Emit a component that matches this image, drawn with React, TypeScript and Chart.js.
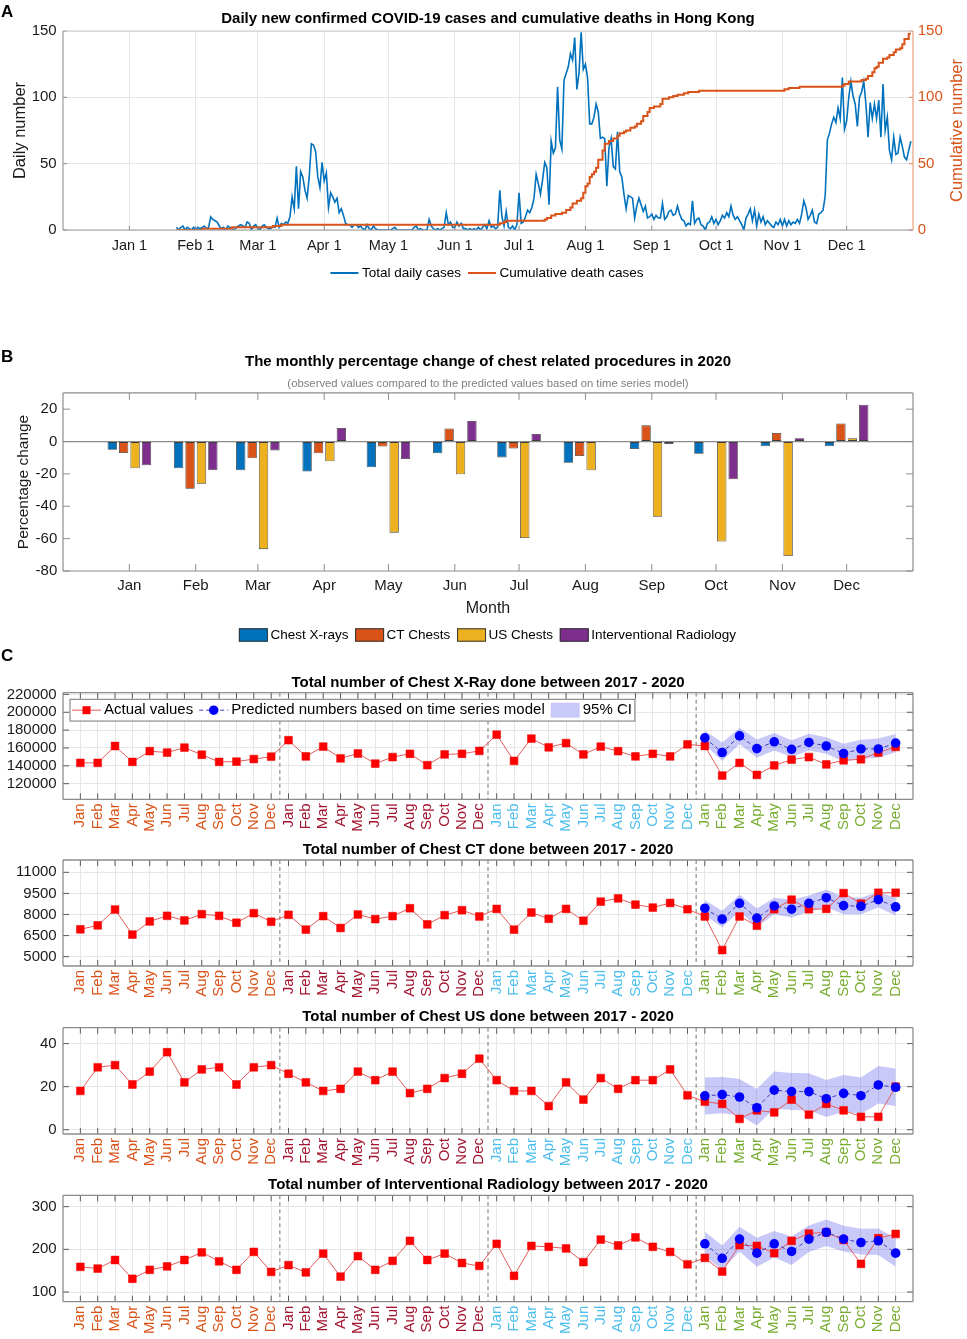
import React, { useEffect, useRef } from 'react';
import { Chart, registerables } from 'chart.js';

Chart.register(...registerables);

const FONT = '"Liberation Sans", Arial, Helvetica, sans-serif';
Chart.defaults.font.family = FONT;
Chart.defaults.color = '#1a1a1a';

/* ================= Panel A data ================= */
const monthStartDays = [0, 31, 60, 91, 121, 152, 182, 213, 244, 274, 305, 335];
const dateTickLabels = ['Jan 1', 'Feb 1', 'Mar 1', 'Apr 1', 'May 1', 'Jun 1', 'Jul 1', 'Aug 1', 'Sep 1', 'Oct 1', 'Nov 1', 'Dec 1'];
const firstCaseDay = 22; // 23 Jan 2020 (day 0 = 1 Jan 2020)
const casesJan = [2, 0, 2, 3, 0, 2, 1, 0, 2];
const casesFeb = [0, 2, 1, 2, 3, 1, 2, 10, 8, 7, 6, 3, 1, 2, 0, 3, 2, 1, 0, 2, 3, 4, 3, 2, 6, 5, 0, 3, 4];
const casesMar = [1, 0, 3, 4, 2, 1, 1, 3, 2, 9, 2, 5, 4, 6, 5, 10, 25, 16, 48, 16, 44, 40, 30, 24, 40, 65, 64, 59, 40, 32, 51];
const casesApr = [37, 43, 17, 28, 25, 21, 24, 13, 16, 11, 5, 4, 4, 2, 4, 4, 2, 3, 1, 0, 4, 1, 0, 3, 1, 0, 0, 0, 0, 0];
const casesMay = [0, 0, 1, 2, 0, 0, 0, 0, 0, 0, 0, 0, 2, 3, 0, 1, 0, 0, 0, 8, 3, 1, 0, 1, 0, 1, 2, 13, 4, 6, 2];
const casesJun = [2, 6, 3, 5, 1, 1, 0, 1, 0, 1, 0, 2, 0, 2, 4, 1, 7, 2, 3, 1, 2, 30, 10, 3, 14, 2, 1, 3, 0, 4];
const casesJul = [28, 5, 6, 10, 15, 13, 17, 24, 42, 35, 27, 38, 51, 47, 19, 67, 58, 62, 108, 68, 61, 113, 118, 123, 133, 128, 145, 106, 118, 149, 121];
const casesAug = [125, 115, 80, 80, 85, 95, 89, 69, 70, 69, 33, 62, 69, 48, 46, 74, 44, 40, 27, 16, 26, 25, 24, 9, 18, 24, 19, 14, 18, 9, 10];
const casesSep = [12, 8, 11, 9, 9, 20, 8, 10, 14, 15, 11, 12, 18, 12, 8, 7, 3, 5, 4, 22, 5, 8, 9, 4, 3, 0, 5, 6, 10, 5];
const casesOct = [8, 4, 7, 11, 9, 13, 10, 18, 11, 8, 10, 7, 4, 0, 9, 12, 16, 7, 15, 3, 12, 6, 10, 4, 7, 5, 3, 2, 6, 4, 8];
const casesNov = [3, 8, 3, 7, 4, 6, 5, 8, 5, 12, 22, 17, 8, 11, 15, 6, 5, 12, 13, 15, 26, 68, 73, 80, 85, 81, 92, 84, 115, 76];
const casesDec = [82, 100, 112, 101, 95, 78, 100, 104, 112, 95, 70, 96, 84, 95, 84, 98, 70, 110, 75, 85, 60, 53, 70, 57, 58, 70, 63, 55, 53, 60, 67];

const deathDays = [22, 34, 48, 67, 71, 173, 175, 176, 194, 195, 197, 199, 202, 204, 206, 207, 209, 211, 212, 213, 214, 215, 216, 217, 218, 219, 221, 222, 224, 226, 228, 229, 231, 232, 234, 236, 237, 239, 240, 242, 243, 245, 248, 249, 252, 254, 256, 259, 261, 266, 306, 308, 313, 333, 334, 336, 342, 344, 345, 347, 348, 349, 350, 352, 354, 355, 357, 358, 360, 361, 362, 364, 365];
const deathCounts = [0, 1, 2, 3, 4, 5, 6, 7, 8, 9, 11, 12, 13, 15, 17, 20, 22, 24, 28, 33, 35, 40, 42, 44, 47, 53, 60, 65, 67, 69, 71, 73, 74, 75, 77, 78, 80, 82, 86, 89, 92, 93, 95, 99, 100, 101, 102, 103, 104, 105, 106, 107, 108, 109, 110, 112, 113, 114, 116, 119, 122, 123, 126, 129, 130, 132, 134, 136, 137, 140, 144, 148, 148];

/* ================= Panel B data ================= */
const monthAbbr = ['Jan', 'Feb', 'Mar', 'Apr', 'May', 'Jun', 'Jul', 'Aug', 'Sep', 'Oct', 'Nov', 'Dec'];
const procedureNames = ['Chest X-rays', 'CT Chests', 'US Chests', 'Interventional Radiology'];
const xrayChange2020 = [-5.1, -16.5, -17.8, -18.6, -15.9, -7.3, -9.8, -13.1, -4.7, -7.6, -2.9, -2.9];
const ctChange2020 = [-7.1, -29.2, -10.4, -7.3, -3.1, 8.0, -4.3, -9.0, 10.0, 0.3, 5.3, 11.2];
const usChange2020 = [-16.5, -26.1, -66.5, -12.2, -56.3, -20.2, -59.6, -17.8, -46.5, -61.8, -70.8, 2.0];
const irChange2020 = [-14.7, -17.8, -5.5, 8.4, -10.8, 12.7, 4.7, -0.2, -1.6, -23.3, 2.0, 22.7];

/* ================= Panel C data ================= */
const yearColors = ['#D95319', '#A2142F', '#4DBEEE', '#77AC30'];

const xray2017 = [143300, 143300, 162200, 144400, 156400, 154900, 160400, 152400, 144400, 144700, 147600, 150200];
const xray2018 = [168700, 150500, 161500, 148400, 153800, 142500, 149800, 153500, 140700, 152700, 153500, 156700];
const xray2019 = [174900, 145500, 170500, 160700, 165500, 152700, 161500, 156400, 150500, 153500, 150500, 164000];
const xray2020 = [162200, 129100, 143300, 129800, 140400, 146900, 149800, 141500, 146200, 147300, 154900, 161100];
const xrayPred2020 = [171300, 154900, 173500, 159300, 166900, 158500, 166200, 162200, 153800, 158900, 158900, 165500];
const xrayUpper2020 = [179600, 166200, 182500, 169500, 176700, 168700, 176000, 172000, 164700, 169100, 170500, 175600];
const xrayLower2020 = [163600, 145500, 164400, 149100, 157100, 149800, 157100, 153500, 144700, 148000, 149100, 155300];
const xrayTicks = [120000, 140000, 160000, 180000, 200000, 220000];

const ct2017 = [6945, 7227, 8352, 6570, 7508, 7906, 7578, 8023, 7906, 7414, 8094, 7484];
const ct2018 = [7977, 6922, 7883, 7039, 8000, 7672, 7883, 8445, 7297, 7953, 8305, 7859];
const ct2019 = [8398, 6922, 8141, 7695, 8398, 7555, 8914, 9148, 8703, 8492, 8820, 8375];
const ct2020 = [7859, 5469, 7859, 7203, 8375, 9055, 8375, 8398, 9523, 8773, 9547, 9547];
const ctPred2020 = [8445, 7672, 8797, 7742, 8609, 8375, 8797, 9195, 8633, 8586, 9055, 8539];
const ctUpper2020 = [9008, 8258, 9406, 8422, 9195, 9055, 9359, 9781, 9242, 9195, 9594, 9195];
const ctLower2020 = [7953, 7086, 8234, 7109, 8023, 7789, 8188, 8539, 8023, 8023, 8492, 7930];
const ctTicks = [5000, 6500, 8000, 9500, 11000];

const us2017 = [18, 29, 30, 21, 27, 36, 22, 28, 29, 21, 29, 30];
const us2018 = [26, 22, 18, 19, 27, 23, 27, 17, 19, 24, 26, 33];
const us2019 = [23, 18, 18, 11, 22, 14, 24, 19, 23, 23, 28, 16];
const us2020 = [13, 12, 5, 9, 8, 14, 7, 12, 9, 6, 6, 20];
const usPred2020 = [15.7, 16.3, 15.2, 10.2, 18.4, 17.7, 17.7, 14.4, 16.9, 15.8, 20.8, 19.7];
const usUpper2020 = [24.2, 24.5, 23.6, 18.9, 27, 26.4, 26.2, 23.1, 25.4, 24.3, 29.6, 28.4];
const usLower2020 = [7.1, 7.6, 6.7, 2.0, 9.9, 9.1, 9.0, 5.9, 8.4, 7.3, 12.2, 11];
const usTicks = [0, 20, 40];

const ir2017 = [159, 155, 175, 131, 152, 160, 175, 193, 172, 152, 194, 147];
const ir2018 = [163, 146, 190, 136, 184, 152, 173, 220, 175, 190, 168, 161];
const ir2019 = [213, 138, 208, 206, 202, 170, 223, 209, 228, 206, 194, 165];
const ir2020 = [180, 148, 210, 208, 191, 220, 237, 240, 222, 166, 226, 236];
const irPred2020 = [213, 179, 224, 191, 213, 195, 224, 240, 224, 216, 220, 191];
const irUpper2020 = [241, 209, 253, 227, 243, 230, 256, 270, 255, 248, 249, 226];
const irLower2020 = [184, 152, 195, 159, 181, 163, 194, 208, 195, 188, 187, 159];
const irTicks = [100, 200, 300];

const cData = [
  { title: 'Total number of Chest X-Ray done between 2017 - 2020', years: [xray2017, xray2018, xray2019, xray2020], pred: xrayPred2020, upper: xrayUpper2020, lower: xrayLower2020, yMin: 102500, yMax: 221900, yTicks: xrayTicks },
  { title: 'Total number of Chest CT done between 2017 - 2020', years: [ct2017, ct2018, ct2019, ct2020], pred: ctPred2020, upper: ctUpper2020, lower: ctLower2020, yMin: 4336, yMax: 11877, yTicks: ctTicks },
  { title: 'Total number of Chest US done between 2017 - 2020', years: [us2017, us2018, us2019, us2020], pred: usPred2020, upper: usUpper2020, lower: usLower2020, yMin: -2, yMax: 47.4, yTicks: usTicks },
  { title: 'Total number of Interventional Radiology between 2017 - 2020', years: [ir2017, ir2018, ir2019, ir2020], pred: irPred2020, upper: irUpper2020, lower: irLower2020, yMin: 77.3, yMax: 326.6, yTicks: irTicks },
];

/* layout of the four panel-C canvases (page pixels) */
const cLayout = [
  { top: 665, height: 173, titleTop: 8.7, titleBottom: 1.0, xAxisH: 38.7, legend: true },
  { top: 838, height: 167, titleTop: 3.0, titleBottom: 1.0, xAxisH: 39, legend: false },
  { top: 1005, height: 165, titleTop: 2.7, titleBottom: 2.0, xAxisH: 36, legend: false },
  { top: 1170, height: 169, titleTop: 6.0, titleBottom: 1.3, xAxisH: 37.3, legend: false },
];

/* ================= helpers ================= */
function drawSymbol(ctx: CanvasRenderingContext2D, it: any, x: number, y: number, w: number) {
  ctx.save();
  if (it.type === 'line' || it.type === 'lineRect' || it.type === 'lineCircle') {
    ctx.strokeStyle = it.color;
    ctx.lineWidth = it.width || 1;
    ctx.setLineDash(it.dash || []);
    ctx.beginPath();
    ctx.moveTo(x, y);
    ctx.lineTo(x + w, y);
    ctx.stroke();
    ctx.setLineDash([]);
    if (it.type === 'lineRect') {
      const s = it.size;
      ctx.fillStyle = it.marker;
      ctx.fillRect(x + w / 2 - s / 2, y - s / 2, s, s);
    }
    if (it.type === 'lineCircle') {
      ctx.fillStyle = it.marker;
      ctx.beginPath();
      ctx.arc(x + w / 2, y, it.size / 2, 0, Math.PI * 2);
      ctx.fill();
    }
  } else if (it.type === 'box') {
    ctx.fillStyle = it.color;
    ctx.fillRect(x, y - it.h / 2, w, it.h);
    if (it.stroke) {
      ctx.strokeStyle = it.stroke;
      ctx.lineWidth = 1;
      ctx.strokeRect(x + 0.5, y - it.h / 2 + 0.5, w - 1, it.h - 1);
    }
  }
  ctx.restore();
}

function drawLegend(ctx: CanvasRenderingContext2D, L: any) {
  ctx.save();
  ctx.font = `${L.fontSize}px ${FONT}`;
  const widths = L.items.map((it: any) => ctx.measureText(it.label).width);
  let total = 0;
  widths.forEach((w: number) => { total += L.symW + L.symGap + w; });
  total += L.itemGap * (L.items.length - 1);
  let x = L.left !== undefined ? L.left : L.cx - total / 2;
  const y = L.cy;
  if (L.frame) {
    const fx = x - L.frame.l;
    const fw = total + L.frame.l + L.frame.r;
    ctx.fillStyle = '#ffffff';
    ctx.fillRect(fx, y - L.frame.h / 2, fw, L.frame.h);
    ctx.strokeStyle = L.frame.color;
    ctx.lineWidth = L.frame.width;
    ctx.strokeRect(fx, y - L.frame.h / 2, fw, L.frame.h);
  }
  L.items.forEach((it: any, i: number) => {
    drawSymbol(ctx, it, x, y, L.symW);
    x += L.symW + L.symGap;
    ctx.fillStyle = '#000';
    ctx.textBaseline = 'middle';
    ctx.textAlign = 'left';
    ctx.font = `${L.fontSize}px ${FONT}`;
    ctx.fillText(it.label, x, y);
    x += widths[i] + L.itemGap;
  });
  ctx.restore();
}

function decorPlugin(cfg: any) {
  return {
    id: 'decor',
    beforeDatasetsDraw(chart: any) {
      if (!cfg.separators) return;
      const { ctx, chartArea: a } = chart;
      const xs = chart.scales.x;
      ctx.save();
      ctx.strokeStyle = '#8c8c8c';
      ctx.lineWidth = 1.2;
      ctx.setLineDash([4, 3]);
      for (const v of cfg.separators) {
        const p = xs.getPixelForValue(v);
        ctx.beginPath();
        ctx.moveTo(p, a.top);
        ctx.lineTo(p, a.bottom);
        ctx.stroke();
      }
      ctx.restore();
    },
    afterDatasetsDraw(chart: any) {
      const { ctx, chartArea: a } = chart;
      ctx.save();
      const seg = (x1: number, y1: number, x2: number, y2: number, c: string, w: number) => {
        ctx.strokeStyle = c;
        ctx.lineWidth = w;
        ctx.beginPath();
        ctx.moveTo(x1, y1);
        ctx.lineTo(x2, y2);
        ctx.stroke();
      };
      const t = cfg.ticks;
      if (t) {
        const xs = chart.scales.x;
        const ys = chart.scales.y;
        const yr = chart.scales[t.rightScale || 'y'];
        for (const tk of xs.ticks) {
          const p = xs.getPixelForValue(tk.value);
          if (t.xBottom) seg(p, a.bottom, p, a.bottom - t.len, t.color, 1);
          if (t.xTop) seg(p, a.top, p, a.top + t.len, t.color, 1);
        }
        if (t.yLeft) for (const tk of ys.ticks) {
          const p = ys.getPixelForValue(tk.value);
          seg(a.left, p, a.left + t.len, p, t.color, 1);
        }
        if (t.yRight) for (const tk of yr.ticks) {
          const p = yr.getPixelForValue(tk.value);
          seg(a.right, p, a.right - t.len, p, t.yRightColor || t.color, 1);
        }
      }
      const f = cfg.frame;
      if (f) {
        seg(a.left, a.top, a.right, a.top, f.top || f.color, f.width);
        seg(a.left, a.bottom, a.right, a.bottom, f.color, f.width);
        seg(a.left, a.top, a.left, a.bottom, f.color, f.width);
        seg(a.right, a.top, a.right, a.bottom, f.right || f.color, f.width);
      }
      ctx.restore();
    },
    afterDraw(chart: any) {
      const { ctx, chartArea: a } = chart;
      if (cfg.rightTitle) {
        const r = cfg.rightTitle;
        ctx.save();
        ctx.translate(r.x, (a.top + a.bottom) / 2);
        ctx.rotate(-Math.PI / 2);
        ctx.font = `${r.size}px ${FONT}`;
        ctx.fillStyle = r.color;
        ctx.textAlign = 'center';
        ctx.textBaseline = 'middle';
        ctx.fillText(r.text, 0, 0);
        ctx.restore();
      }
      if (cfg.legend) drawLegend(ctx, cfg.legend);
    },
  };
}

/* ================= Panel A ================= */
function panelA() {
  const cases = [...casesJan, ...casesFeb, ...casesMar, ...casesApr, ...casesMay, ...casesJun, ...casesJul, ...casesAug, ...casesSep, ...casesOct, ...casesNov, ...casesDec];
  const casePoints = cases.map((v, i) => ({ x: firstCaseDay + i, y: v }));
  const deathPoints = deathDays.map((d, i) => ({ x: d, y: deathCounts[i] }));
  const decor = decorPlugin({
    frame: { color: '#9a9a9a', top: '#cccccc', right: '#E9A27F', width: 1.2 },
    ticks: { len: 4, color: '#8a8a8a', xBottom: true, yLeft: true, yRight: true, yRightColor: '#E08A5E', rightScale: 'y1' },
    rightTitle: { text: 'Cumulative number', x: 957, color: '#D95319', size: 16.5 },
    legend: {
      cx: 487, cy: 273, fontSize: 13.5, symW: 28, symGap: 3.5, itemGap: 7,
      items: [
        { type: 'line', label: 'Total daily cases', color: '#0072BD', width: 2 },
        { type: 'line', label: 'Cumulative death cases', color: '#D95319', width: 2 },
      ],
    },
  });
  return {
    type: 'line',
    data: {
      datasets: [
        { label: 'Cumulative death cases', data: deathPoints, yAxisID: 'y1', borderColor: '#D95319', borderWidth: 2, pointRadius: 0, stepped: true, fill: false },
        { label: 'Total daily cases', data: casePoints, yAxisID: 'y', borderColor: '#0072BD', borderWidth: 1.6, pointRadius: 0, tension: 0, fill: false },
      ],
    },
    options: {
      responsive: false,
      animation: false,
      events: [],
      layout: { padding: { left: 0, right: 0, top: 0, bottom: 30 } },
      plugins: {
        legend: { display: false },
        tooltip: { enabled: false },
        title: {
          display: true, fullSize: false, color: '#000',
          text: 'Daily new confirmed COVID-19 cases and cumulative deaths in Hong Kong',
          font: { size: 15, weight: 'bold' }, padding: { top: 9.8, bottom: 3.2 },
        },
      },
      scales: {
        x: {
          type: 'linear', min: -31, max: 366, offset: false,
          afterBuildTicks: (s: any) => { s.ticks = monthStartDays.map((v) => ({ value: v })); },
          afterFit: (s: any) => { s.height = 30; },
          ticks: { autoSkip: false, maxRotation: 0, minRotation: 0, padding: 7.2, font: { size: 14.5 }, color: '#1a1a1a', callback: (v: number) => dateTickLabels[monthStartDays.indexOf(v)] },
          grid: { color: '#e6e6e6', drawTicks: false },
          border: { display: false },
        },
        y: {
          position: 'left', min: 0, max: 150,
          afterFit: (s: any) => { s.width = 63; },
          ticks: { stepSize: 50, padding: 6.3, font: { size: 15 }, color: '#1a1a1a', callback: (v: number) => String(v) },
          grid: { color: '#e6e6e6', drawTicks: false },
          border: { display: false },
          title: { display: true, text: 'Daily number', font: { size: 16.5 }, color: '#1a1a1a', padding: { top: 10.1, bottom: 0 } },
        },
        y1: {
          position: 'right', min: 0, max: 150,
          afterFit: (s: any) => { s.width = 54; },
          ticks: { stepSize: 50, padding: 4.7, font: { size: 15 }, color: '#D95319', callback: (v: number) => String(v) },
          grid: { display: false, drawTicks: false },
          border: { display: false },
        },
      },
    },
    plugins: [decor],
  };
}

/* ================= Panel B ================= */
function panelB() {
  const colors = ['#0072BD', '#D95319', '#EDB120', '#7E2F8E'];
  const series = [xrayChange2020, ctChange2020, usChange2020, irChange2020];
  const datasets = series.map((vals, k) => ({
    label: procedureNames[k],
    data: vals.map((v, i) => ({ x: monthStartDays[i], y: v })),
    backgroundColor: colors[k],
    borderColor: '#3c3c3c',
    borderWidth: 0.8,
    borderSkipped: false,
    categoryPercentage: 0.735,
    barPercentage: 0.82,
  }));
  const decor = decorPlugin({
    frame: { color: '#8c8c8c', width: 1.2 },
    ticks: { len: 7, color: '#8c8c8c', xBottom: true, xTop: true, yLeft: true, yRight: true },
    legend: {
      cx: 487.5, cy: 295, fontSize: 13.5, symW: 29, symGap: 2.5, itemGap: 6.7,
      items: procedureNames.map((n, k) => ({ type: 'box', label: n, color: colors[k], h: 13.4, stroke: '#333' })),
    },
  });
  return {
    type: 'bar',
    data: { datasets },
    options: {
      responsive: false,
      animation: false,
      events: [],
      layout: { padding: { left: 0, right: 54, top: 0, bottom: 31 } },
      plugins: {
        legend: { display: false },
        tooltip: { enabled: false },
        title: {
          display: true, fullSize: false, color: '#000',
          text: 'The monthly percentage change of chest related procedures in 2020',
          font: { size: 15, weight: 'bold' }, padding: { top: 13, bottom: 2 },
        },
        subtitle: {
          display: true, fullSize: false, color: '#808080',
          text: '(observed values compared to the predicted values based on time series model)',
          font: { size: 11.3 }, padding: { top: 4, bottom: 2.4 },
        },
      },
      scales: {
        x: {
          type: 'linear', min: -31, max: 366, offset: false,
          afterBuildTicks: (s: any) => { s.ticks = monthStartDays.map((v) => ({ value: v })); },
          afterFit: (s: any) => { s.height = 48; },
          ticks: { autoSkip: false, maxRotation: 0, minRotation: 0, padding: 5.5, font: { size: 15 }, color: '#1a1a1a', callback: (v: number) => monthAbbr[monthStartDays.indexOf(v)] },
          grid: { display: false, drawTicks: false, offset: false },
          border: { display: false },
          title: { display: true, text: 'Month', font: { size: 16 }, color: '#1a1a1a', padding: { top: 0, bottom: 1.2 } },
        },
        y: {
          min: -80, max: 30,
          afterFit: (s: any) => { s.width = 63; },
          ticks: { stepSize: 20, includeBounds: false, padding: 5.7, font: { size: 15 }, color: '#1a1a1a', callback: (v: number) => String(v) },
          grid: { drawTicks: false, lineWidth: 1.2, color: (c: any) => (c.tick && c.tick.value === 0 ? '#8c8c8c' : 'rgba(0,0,0,0)') },
          border: { display: false },
          title: { display: true, text: 'Percentage change', font: { size: 15.5 }, color: '#1a1a1a', padding: { top: 14.7, bottom: 0 } },
        },
      },
    },
    plugins: [decor],
  };
}

/* ================= Panel C ================= */
function panelC(k: number) {
  const d = cData[k];
  const lay = cLayout[k];
  const actual = [...d.years[0], ...d.years[1], ...d.years[2], ...d.years[3]];
  const monthPos = actual.map((_, i) => i + 1);
  const pos2020 = d.pred.map((_, i) => 37 + i);
  const legend = lay.legend
    ? {
        left: 72, cy: 45.2, fontSize: 15, symW: 29, symGap: 3, itemGap: 6,
        frame: { l: 2, r: 3, h: 21.7, color: '#8c8c8c', width: 1.2 },
        items: [
          { type: 'lineRect', label: 'Actual values', color: '#e35b5b', width: 1, marker: '#ff0000', size: 8 },
          { type: 'lineCircle', label: 'Predicted numbers based on time series model', color: '#3d3db8', width: 1, dash: [4, 3], marker: '#0000ff', size: 9.5 },
          { type: 'box', label: '95% CI', color: 'rgba(60,60,235,0.28)', h: 15 },
        ],
      }
    : null;
  const decor = decorPlugin({
    separators: [12.5, 24.5, 36.5],
    frame: { color: '#8c8c8c', width: 1.3 },
    ticks: { len: 6, color: '#5a5a5a', xBottom: true, xTop: true, yLeft: true, yRight: true },
    legend,
  });
  return {
    type: 'line',
    data: {
      datasets: [
        {
          label: 'Predicted numbers based on time series model',
          data: d.pred.map((v, i) => ({ x: pos2020[i], y: v })),
          borderColor: '#3d3db8', borderWidth: 1, borderDash: [4, 3],
          pointStyle: 'circle', pointRadius: 4.8, pointBackgroundColor: '#0000ff', pointBorderColor: '#0000ff', pointBorderWidth: 0,
          fill: false,
        },
        {
          label: 'Actual values',
          data: actual.map((v, i) => ({ x: monthPos[i], y: v })),
          borderColor: '#e35b5b', borderWidth: 1,
          pointStyle: 'rect', pointRadius: 5.5, pointBackgroundColor: '#ff0000', pointBorderColor: '#e80000', pointBorderWidth: 0.5,
          fill: false,
        },
        {
          label: '95% CI',
          data: d.upper.map((v, i) => ({ x: pos2020[i], y: v })),
          borderWidth: 0, pointRadius: 0, fill: '+1', backgroundColor: 'rgba(60,60,235,0.28)', borderColor: 'rgba(0,0,0,0)',
        },
        {
          label: '95% CI lower',
          data: d.lower.map((v, i) => ({ x: pos2020[i], y: v })),
          borderWidth: 0, pointRadius: 0, fill: false, borderColor: 'rgba(0,0,0,0)',
        },
      ],
    },
    options: {
      responsive: false,
      animation: false,
      events: [],
      layout: { padding: { left: 0, right: 54, top: 0, bottom: 0 } },
      plugins: {
        legend: { display: false },
        tooltip: { enabled: false },
        title: {
          display: true, fullSize: false, color: '#000', text: d.title,
          font: { size: 15, weight: 'bold' }, padding: { top: lay.titleTop, bottom: lay.titleBottom },
        },
      },
      scales: {
        x: {
          type: 'linear', min: 0, max: 49, offset: false,
          afterBuildTicks: (s: any) => { s.ticks = monthPos.map((v) => ({ value: v })); },
          afterFit: (s: any) => { s.height = lay.xAxisH; },
          ticks: {
            autoSkip: false, minRotation: 90, maxRotation: 90, padding: 4, font: { size: 15 },
            color: (c: any) => yearColors[Math.min(3, Math.max(0, Math.floor(((c.tick ? c.tick.value : 1) - 1) / 12)))],
            callback: (v: number) => monthAbbr[(v - 1) % 12],
          },
          grid: { color: '#e6e6e6', drawTicks: false },
          border: { display: false },
        },
        y: {
          min: d.yMin, max: d.yMax,
          afterBuildTicks: (s: any) => { s.ticks = d.yTicks.map((v) => ({ value: v })); },
          afterFit: (s: any) => { s.width = 63; },
          ticks: { padding: 6.3, font: { size: 15 }, color: '#1a1a1a', callback: (v: number) => String(v) },
          grid: { color: '#e6e6e6', drawTicks: false },
          border: { display: false },
        },
      },
    },
    plugins: [decor],
  };
}

/* ================= React ================= */
function ChartBox({ top, height, make }: { top: number; height: number; make: () => any }) {
  const ref = useRef<HTMLCanvasElement>(null);
  useEffect(() => {
    const chart = new Chart(ref.current as HTMLCanvasElement, make());
    return () => chart.destroy();
  }, []);
  return (
    <div style={{ position: 'absolute', left: 0, top, width: 967, height }}>
      <canvas ref={ref} width={967} height={height} style={{ display: 'block', width: 967, height }} />
    </div>
  );
}

const letterStyle = (top: number): React.CSSProperties => ({
  position: 'absolute', left: 1, top, fontFamily: FONT, fontWeight: 'bold', fontSize: 17, lineHeight: '17px', color: '#000',
});

export default function App() {
  return (
    <div style={{ position: 'absolute', left: 0, top: 0, width: 967, height: 1339, background: '#fff', overflow: 'hidden' }}>
      <ChartBox top={0} height={290} make={panelA} />
      <ChartBox top={340} height={310} make={panelB} />
      {cLayout.map((l, k) => (
        <ChartBox key={k} top={l.top} height={l.height} make={() => panelC(k)} />
      ))}
      <div style={letterStyle(2.8)}>A</div>
      <div style={letterStyle(347.8)}>B</div>
      <div style={letterStyle(646.8)}>C</div>
    </div>
  );
}
